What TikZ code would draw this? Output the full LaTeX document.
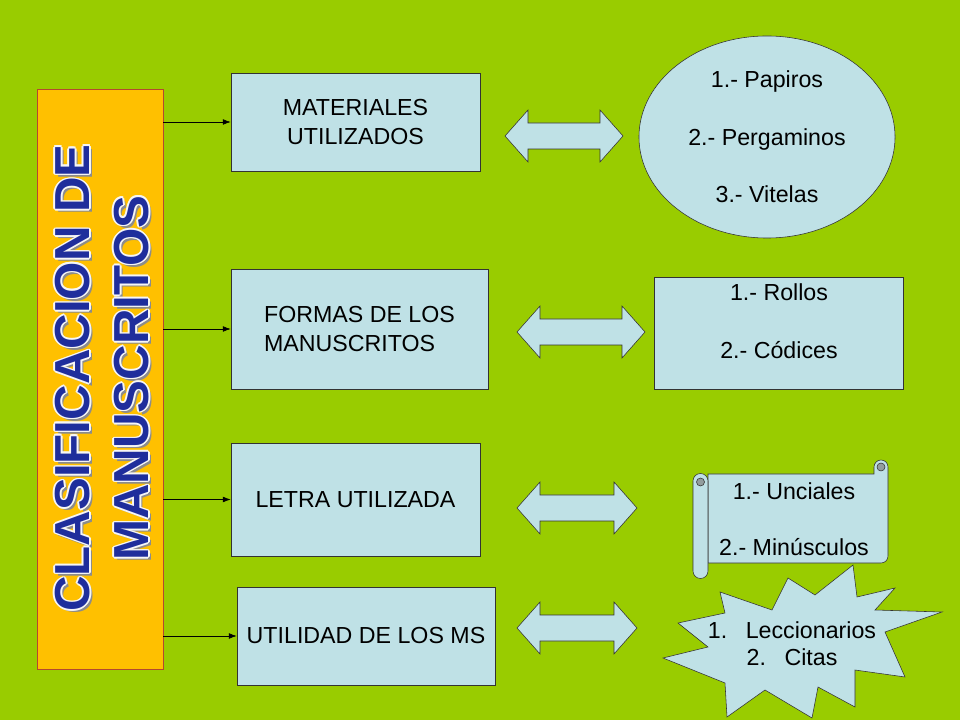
\documentclass[tikz,border=0pt]{standalone}
\usepackage{fontspec}
\setmainfont{Liberation Sans}
\usetikzlibrary{shapes.geometric, arrows.meta}

\definecolor{bggreen}{HTML}{99CC00}
\definecolor{titleorange}{HTML}{FFC000}
\definecolor{titleblue}{HTML}{1F2E9C}
\definecolor{boxblue}{HTML}{BFE1E6}
\definecolor{rimred}{HTML}{B5482E}

\newcommand{\titletext}{CLASIFICACION DE\\MANUSCRITOS}

\tikzset{
  box/.style={draw=black!80, fill=boxblue, inner sep=0pt, font=\fontsize{16.5}{21}\selectfont},
  shp/.style={draw=black!80, fill=boxblue, line join=miter},
  feed/.style={-{Latex[length=5.5pt, width=4pt]}, thin},
  list/.style={align=center, font=\fontsize{16.5}{41}\selectfont},
  titlefont/.style={rotate=90, align=center, font=\bfseries\fontsize{35}{42}\selectfont},
}

\begin{document}
\begin{tikzpicture}[x=0.025cm, y=-0.025cm]
    % Background, one unit is one pixel of the slide
    \fill[bggreen] (0,0) rectangle (960,720);
    \useasboundingbox (0,0) rectangle (960,720);

    % Title column
    \node[draw=rimred, fill=titleorange, minimum width=3.15cm, minimum height=14.5cm, inner sep=0pt] (title) at (100,379) {};
    % shadow, white rim, then the blue letters
    \node[titlefont, text=black!45] (titleshd) at (105,381) {\titletext};
    \foreach \ang in {0,45,...,315}
        \node[titlefont, text=white!93!gray, shift={(\ang:1.6)}] (titlerim\ang) at (102,378) {\titletext};
    \node[titlefont, text=titleblue] (titletxt) at (102,378) {\titletext};

    % Category boxes
    \node[box, minimum width=6.225cm, minimum height=2.45cm, align=center] (mat) at (355.5,122) {MATERIALES\\UTILIZADOS};
    \node[box, minimum width=6.425cm, minimum height=3.0cm, align=left, font=\fontsize{16.5}{20}\selectfont] (form) at (359.5,329) {FORMAS DE LOS\\MANUSCRITOS};
    \node[box, minimum width=6.225cm, minimum height=2.825cm] (letra) at (355.5,499.5) {LETRA UTILIZADA};
    \node[box, minimum width=6.45cm, minimum height=2.45cm] (util) at (366,636) {UTILIDAD DE LOS MS};

    % Arrows from the title to the boxes
    \draw[feed] (title.east |- mat.west) -- (mat.west);
    \draw[feed] (title.east |- form.west) -- (form.west);
    \draw[feed] (title.east |- letra.west) -- (letra.west);
    \draw[feed] (title.east |- util.west) -- (util.west);

    % Double arrows
    \foreach \a/\b/\y in {505/623/136, 517/645/332, 517/637/508, 517/637/628} {
        \draw[shp] (\a,\y) -- (\a+23,\y-26) -- (\a+23,\y-13) -- (\b-23,\y-13) -- (\b-23,\y-26) -- (\b,\y)
            -- (\b-23,\y+26) -- (\b-23,\y+13) -- (\a+23,\y+13) -- (\a+23,\y+26) -- cycle;
    }

    % Materials ellipse
    \node[ellipse, draw=black!80, fill=boxblue, minimum width=6.4cm, minimum height=5.05cm, inner sep=0pt] (mats) at (767,137) {};
    \node[list] (matstxt) at (mats) {1.- Papiros\\2.- Pergaminos\\3.- Vitelas};

    % Forms box
    \node[box, minimum width=6.225cm, minimum height=2.8cm] (forms) at (778.5,333) {};
    \node[list] (formstxt) at (779,321) {1.- Rollos\\2.- Códices};

    % Scroll for the letters
    \draw[shp] (708,474) -- (874,474) -- (874,467) arc[start angle=180, end angle=360, radius=7]
        -- (888,556) arc[start angle=0, end angle=90, radius=7] -- (708,563) -- cycle;
    \draw[shp] (693,481) -- (693,571) arc[start angle=180, end angle=0, radius=7.5]
        -- (708,481) arc[start angle=0, end angle=-180, radius=7.5] -- cycle;
    \draw[draw=black!80, fill=gray!70!boxblue] (700.5,482) circle[radius=4];
    \draw[draw=black!80, fill=gray!70!boxblue] (881,467) circle[radius=4];
    \node[list, font=\fontsize{16.5}{39.7}\selectfont] (scrolltxt) at (794,519) {1.- Unciales\\2.- Minúsculos};

    % Starburst for the uses
    \draw[shp] (853,565) -- (857,597) -- (895,588) -- (875,610) -- (942,612) -- (885,632) -- (905,677)
        -- (855,670) -- (855,707) -- (818,687) -- (812,718) -- (765,690) -- (727,717) -- (725,683)
        -- (663,658) -- (708,647) -- (678,623) -- (725,613) -- (720,592) -- (772,610) -- (788,578)
        -- (815,595) -- cycle;
    \node[list, font=\fontsize{16.5}{19}\selectfont] (usetxt) at (792,644) {1.\hspace{0.8em}Leccionarios\\2.\hspace{0.8em}Citas};
\end{tikzpicture}
\end{document}
